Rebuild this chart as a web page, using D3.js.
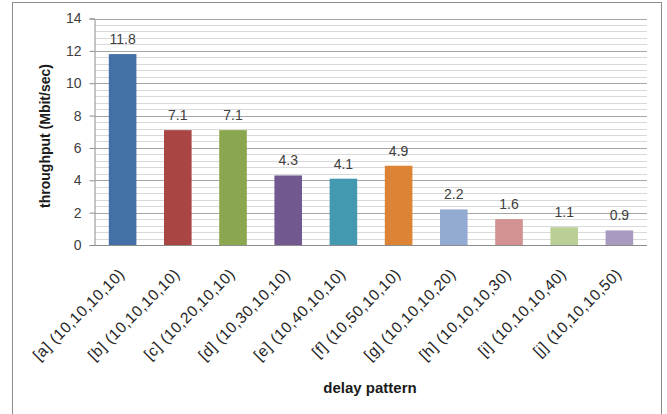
<!DOCTYPE html>
<html>
<head>
<meta charset="utf-8">
<script src="https://cdn.jsdelivr.net/npm/d3@7"></script>
<style>
  html, body { margin: 0; padding: 0; background: #fff; }
  svg { display: block; }
  text { font-family: "Liberation Sans", "DejaVu Sans", sans-serif; }
</style>
</head>
<body>
<svg id="chart" width="667" height="414"></svg>
<script>
// Delay patterns and measured throughput
const categories = [
  "[a] (10,10,10,10)", "[b] (10,10,10,10)", "[c] (10,20,10,10)",
  "[d] (10,30,10,10)", "[e] (10,40,10,10)", "[f] (10,50,10,10)",
  "[g] (10,10,10,20)", "[h] (10,10,10,30)", "[i] (10,10,10,40)",
  "[j] (10,10,10,50)"
];
const throughput = [11.8, 7.1, 7.1, 4.3, 4.1, 4.9, 2.2, 1.6, 1.1, 0.9];
const barColors = [
  "#4470A8", "#A94543", "#8AA64E", "#71588F", "#4299B0",
  "#DD8336", "#93ABD3", "#D29291", "#B9CF95", "#A99BC0"
];
const yTicks = [0, 2, 4, 6, 8, 10, 12, 14];
const yTitle = "throughput (Mbit/sec)";
const xTitle = "delay pattern";

const svg = d3.select("#chart");
const plot = { left: 95, right: 647, top: 18.5, bottom: 245 };

// chart frame
svg.append("rect")
  .attr("x", 12.5).attr("y", 2.5)
  .attr("width", 649).attr("height", 420)
  .attr("fill", "#fff").attr("stroke", "#8c8c8c").attr("stroke-width", 1);

const x = d3.scaleBand()
  .domain(categories)
  .range([plot.left, plot.right])
  .paddingInner(0.5).paddingOuter(0.25);

const y = d3.scaleLinear().domain([0, 14]).range([plot.bottom, plot.top]);

// minor gridlines every 0.4
const minor = d3.range(0, 14.0001, 0.4).filter(v => Math.abs(v / 2 - Math.round(v / 2)) > 1e-6);
svg.append("g").selectAll("line").data(minor).join("line")
  .attr("x1", plot.left).attr("x2", plot.right)
  .attr("y1", d => Math.round(y(d)) + 0.5).attr("y2", d => Math.round(y(d)) + 0.5)
  .attr("stroke", "#d9d9d9").attr("stroke-width", 1);

// major gridlines
svg.append("g").selectAll("line").data(yTicks.filter(d => d > 0)).join("line")
  .attr("x1", plot.left).attr("x2", plot.right)
  .attr("y1", d => Math.round(y(d)) + 0.5).attr("y2", d => Math.round(y(d)) + 0.5)
  .attr("stroke", "#a6a6a6").attr("stroke-width", 1);

// y axis
const yAxis = svg.append("g")
  .attr("transform", `translate(${plot.left - 0.5},0)`)
  .call(d3.axisLeft(y).tickValues(yTicks).tickSize(5).tickPadding(8).tickFormat(d3.format("d")));
yAxis.select(".domain").attr("stroke", "#8c8c8c");
yAxis.selectAll(".tick line").attr("stroke", "#8c8c8c");
yAxis.selectAll(".tick text")
  .attr("fill", "#404040").style("font-size", "14px")
  .style("font-family", "'Liberation Sans', sans-serif");

// bars
svg.append("g").selectAll("rect").data(throughput).join("rect")
  .attr("x", (d, i) => x(categories[i]))
  .attr("width", x.bandwidth())
  .attr("y", d => y(d))
  .attr("height", d => y(0) - y(d))
  .attr("fill", (d, i) => barColors[i]);

// x axis line
svg.append("line")
  .attr("x1", plot.left).attr("x2", plot.right)
  .attr("y1", plot.bottom + 0.5).attr("y2", plot.bottom + 0.5)
  .attr("stroke", "#8c8c8c");

// value labels
svg.append("g").selectAll("text").data(throughput).join("text")
  .attr("x", (d, i) => x(categories[i]) + x.bandwidth() / 2)
  .attr("y", d => y(d) - 10)
  .attr("text-anchor", "middle")
  .attr("fill", "#404040")
  .style("font-size", "14px")
  .text(d => d.toFixed(1));

// rotated category labels
svg.append("g").selectAll("text").data(categories).join("text")
  .attr("transform", d => `translate(${x(d) + x.bandwidth() / 2 + 3},${plot.bottom + 30}) rotate(-45)`)
  .attr("text-anchor", "end")
  .attr("fill", "#262626")
  .style("font-size", "15.5px")
  .style("letter-spacing", "0.5px")
  .text(d => d);

// axis titles
svg.append("text")
  .attr("transform", `translate(50,136) rotate(-90)`)
  .attr("text-anchor", "middle")
  .attr("fill", "#1a1a1a")
  .style("font-size", "14px").style("font-weight", "bold")
  .text(yTitle);

svg.append("text")
  .attr("x", 370).attr("y", 393)
  .attr("text-anchor", "middle")
  .attr("fill", "#1a1a1a")
  .style("font-size", "15px").style("font-weight", "bold")
  .text(xTitle);
</script>
</body>
</html>
